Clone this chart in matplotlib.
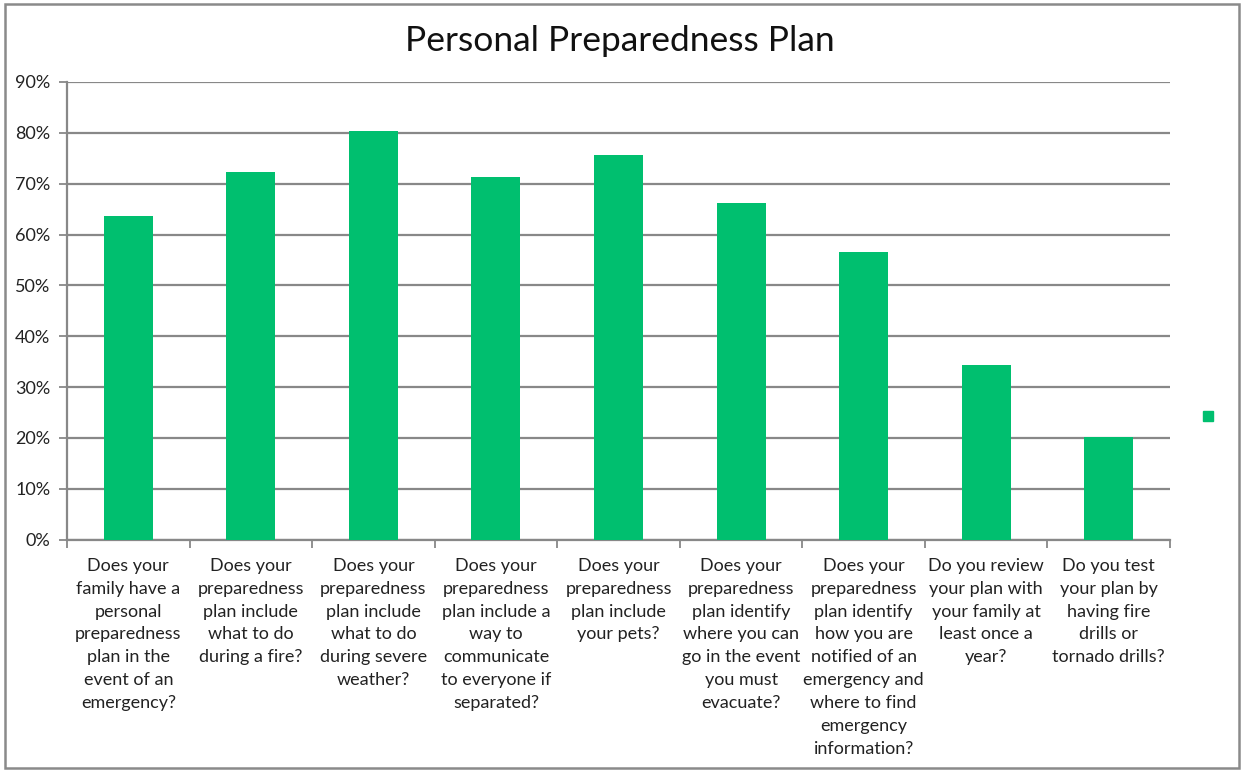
import matplotlib
matplotlib.use("Agg")
import matplotlib.pyplot as plt
from matplotlib.patches import Rectangle, Patch
from matplotlib.ticker import FuncFormatter, MultipleLocator
import numpy as np

plt.rcParams['font.family'] = ['Lato', 'DejaVu Sans']

# ========== Data ==========
questions = [
    "Does your\nfamily have a\npersonal\npreparedness\nplan in the\nevent of an\nemergency?",
    "Does your\npreparedness\nplan include\nwhat to do\nduring a fire?",
    "Does your\npreparedness\nplan include\nwhat to do\nduring severe\nweather?",
    "Does your\npreparedness\nplan include a\nway to\ncommunicate\nto everyone if\nseparated?",
    "Does your\npreparedness\nplan include\nyour pets?",
    "Does your\npreparedness\nplan identify\nwhere you can\ngo in the event\nyou must\nevacuate?",
    "Does your\npreparedness\nplan identify\nhow you are\nnotified of an\nemergency and\nwhere to find\nemergency\ninformation?",
    "Do you review\nyour plan with\nyour family at\nleast once a\nyear?",
    "Do you test\nyour plan by\nhaving fire\ndrills or\ntornado drills?",
]
yes_share = [0.637, 0.723, 0.804, 0.714, 0.757, 0.662, 0.565, 0.343, 0.202]

bar_color = "#00BF6F"
grid_color = "#888888"

# ========== Plot ==========
fig = plt.figure(figsize=(12.45, 7.72), dpi=100)
ax = fig.add_axes([0.0538, 0.3009, 0.886, 0.5929])

x = np.arange(len(questions))
ax.bar(x, yes_share, width=0.40, color=bar_color, zorder=3)

ax.set_xlim(-0.5, len(questions) - 0.5)
ax.set_ylim(0, 0.9)
ax.yaxis.set_major_locator(MultipleLocator(0.1))
ax.yaxis.set_major_formatter(FuncFormatter(lambda v, p: f"{v * 100:.0f}%"))
ax.grid(axis="y", color=grid_color, linewidth=1.6, zorder=0)

ax.set_xticks(x)
ax.set_xticklabels(questions, fontsize=13, linespacing=1.53, color="#222222")
ax.set_xticks(np.arange(-0.5, len(questions)), minor=True)
ax.tick_params(axis="x", which="major", length=0, pad=13)
ax.tick_params(axis="x", which="minor", length=6, width=1.3, color=grid_color)
ax.tick_params(axis="y", length=6, width=1.3, color=grid_color, labelsize=13,
               labelcolor="#222222", pad=6)

for side in ["top", "right"]:
    ax.spines[side].set_visible(False)
for side in ["left", "bottom"]:
    ax.spines[side].set_color(grid_color)
    ax.spines[side].set_linewidth(1.6)

fig.text(0.498, 0.947, "Personal Preparedness Plan", ha="center", va="center",
         fontsize=25.5, color="#111111")

# empty legend entry on the right
fig.legend(handles=[Patch(color=bar_color)], labels=[""], loc="center",
           bbox_to_anchor=(0.975, 0.46), frameon=False, handlelength=0.7,
           handleheight=0.7)

# chart border
fig.patches.append(Rectangle((0.004, 0.005), 0.991, 0.99, transform=fig.transFigure,
                             fill=False, edgecolor="#8a8a8a", linewidth=1.8))

plt.savefig("out.png", dpi=100)
plt.close()
